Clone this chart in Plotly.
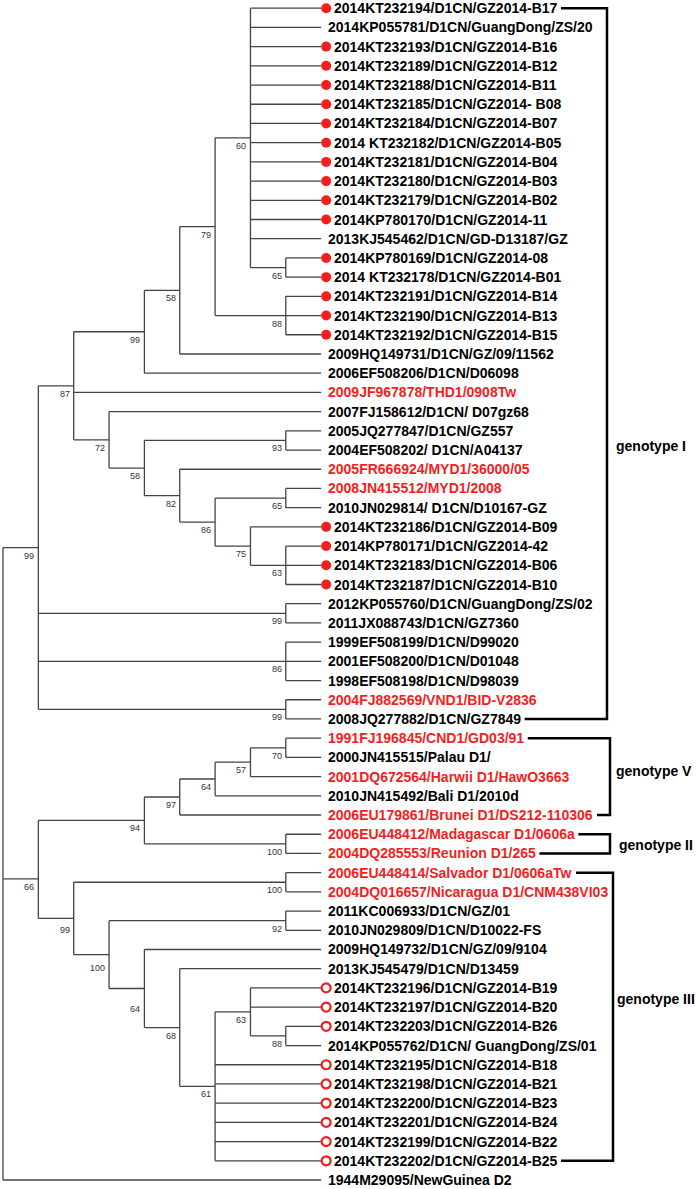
import plotly.graph_objects as go

# ---------------- data ----------------
leaf_labels = [
    "2014KT232194/D1CN/GZ2014-B17",
    "2014KP055781/D1CN/GuangDong/ZS/20",
    "2014KT232193/D1CN/GZ2014-B16",
    "2014KT232189/D1CN/GZ2014-B12",
    "2014KT232188/D1CN/GZ2014-B11",
    "2014KT232185/D1CN/GZ2014- B08",
    "2014KT232184/D1CN/GZ2014-B07",
    "2014 KT232182/D1CN/GZ2014-B05",
    "2014KT232181/D1CN/GZ2014-B04",
    "2014KT232180/D1CN/GZ2014-B03",
    "2014KT232179/D1CN/GZ2014-B02",
    "2014KP780170/D1CN/GZ2014-11",
    "2013KJ545462/D1CN/GD-D13187/GZ",
    "2014KP780169/D1CN/GZ2014-08",
    "2014 KT232178/D1CN/GZ2014-B01",
    "2014KT232191/D1CN/GZ2014-B14",
    "2014KT232190/D1CN/GZ2014-B13",
    "2014KT232192/D1CN/GZ2014-B15",
    "2009HQ149731/D1CN/GZ/09/11562",
    "2006EF508206/D1CN/D06098",
    "2009JF967878/THD1/0908Tw",
    "2007FJ158612/D1CN/ D07gz68",
    "2005JQ277847/D1CN/GZ557",
    "2004EF508202/ D1CN/A04137",
    "2005FR666924/MYD1/36000/05",
    "2008JN415512/MYD1/2008",
    "2010JN029814/ D1CN/D10167-GZ",
    "2014KT232186/D1CN/GZ2014-B09",
    "2014KP780171/D1CN/GZ2014-42",
    "2014KT232183/D1CN/GZ2014-B06",
    "2014KT232187/D1CN/GZ2014-B10",
    "2012KP055760/D1CN/GuangDong/ZS/02",
    "2011JX088743/D1CN/GZ7360",
    "1999EF508199/D1CN/D99020",
    "2001EF508200/D1CN/D01048",
    "1998EF508198/D1CN/D98039",
    "2004FJ882569/VND1/BID-V2836",
    "2008JQ277882/D1CN/GZ7849",
    "1991FJ196845/CND1/GD03/91",
    "2000JN415515/Palau D1/",
    "2001DQ672564/Harwii D1/HawO3663",
    "2010JN415492/Bali D1/2010d",
    "2006EU179861/Brunei D1/DS212-110306",
    "2006EU448412/Madagascar D1/0606a",
    "2004DQ285553/Reunion D1/265",
    "2006EU448414/Salvador D1/0606aTw",
    "2004DQ016657/Nicaragua D1/CNM438VI03",
    "2011KC006933/D1CN/GZ/01",
    "2010JN029809/D1CN/D10022-FS",
    "2009HQ149732/D1CN/GZ/09/9104",
    "2013KJ545479/D1CN/D13459",
    "2014KT232196/D1CN/GZ2014-B19",
    "2014KT232197/D1CN/GZ2014-B20",
    "2014KT232203/D1CN/GZ2014-B26",
    "2014KP055762/D1CN/ GuangDong/ZS/01",
    "2014KT232195/D1CN/GZ2014-B18",
    "2014KT232198/D1CN/GZ2014-B21",
    "2014KT232200/D1CN/GZ2014-B23",
    "2014KT232201/D1CN/GZ2014-B24",
    "2014KT232199/D1CN/GZ2014-B22",
    "2014KT232202/D1CN/GZ2014-B25",
    "1944M29095/NewGuinea D2",
]

# text colour group: k = black, r = red (reference strains)
leaf_color_group = list(
    "kkkkkkkkkkkkkkkkkkkk"   # 0-19
    "rkkkrrkkkkk"            # 20-30
    "kkkkkrk"                # 31-37
    "rkrkrrrrr"              # 38-46
    "kkkkkkkkkkkkkkk"        # 47-61
)

# marker group: f = filled dot, o = open circle, n = none
leaf_marker_group = list(
    "fnffffffffffnfffffnn"   # 0-19
    "nnnnnnnffff"            # 20-30
    "nnnnnnn"                # 31-37
    "nnnnnnnnn"              # 38-46
    "nnnnooonoooooon"        # 47-61
)

# tree: node id -> (bootstrap support, node level, children); ints are leaf indices
tree = {
    "root": ("", 0, ["n1", "n66", 61]),
    "n1": ("99", 1, ["n87", "n99b", "n86b", "n99c"]),
    "n87": ("87", 2, ["n99a", 20, "n72"]),
    "n99a": ("99", 4, ["n58a", 19]),
    "n58a": ("58", 5, ["n79", 18]),
    "n79": ("79", 6, ["n60", "n88a"]),
    "n60": ("60", 7, [0, 1, 2, 3, 4, 5, 6, 7, 8, 9, 10, 11, 12, "n65a"]),
    "n65a": ("65", 8, [13, 14]),
    "n88a": ("88", 8, [15, 16, 17]),
    "n72": ("72", 3, [21, "n58b"]),
    "n58b": ("58", 4, ["n93", "n82"]),
    "n93": ("93", 8, [22, 23]),
    "n82": ("82", 5, [24, "n86a"]),
    "n86a": ("86", 6, ["n65b", "n75"]),
    "n65b": ("65", 8, [25, 26]),
    "n75": ("75", 7, [27, "n63a"]),
    "n63a": ("63", 8, [28, 29, 30]),
    "n99b": ("99", 8, [31, 32]),
    "n86b": ("86", 8, [33, 34, 35]),
    "n99c": ("99", 8, [36, 37]),
    "n66": ("66", 1, ["n94", "n99d"]),
    "n94": ("94", 4, ["n97", "n100a"]),
    "n97": ("97", 5, ["n64a", 42]),
    "n64a": ("64", 6, ["n57", 41]),
    "n57": ("57", 7, ["n70", 40]),
    "n70": ("70", 8, [38, 39]),
    "n100a": ("100", 8, [43, 44]),
    "n99d": ("99", 2, ["n100b", "n100c"]),
    "n100b": ("100", 8, [45, 46]),
    "n100c": ("100", 3, ["n92", "n64b"]),
    "n92": ("92", 8, [47, 48]),
    "n64b": ("64", 4, [49, "n68"]),
    "n68": ("68", 5, [50, "n61"]),
    "n61": ("61", 6, ["n63b", 55, 56, 57, 58, 59, 60]),
    "n63b": ("63", 7, [51, 52, "n88b"]),
    "n88b": ("88", 8, [53, 54]),
}

# genotype brackets: (name, first leaf, last leaf, label row)
genotypes = [
    ("genotype I", 0, 37, 22.8),
    ("genotype V", 38, 42, 39.7),
    ("genotype II", 43, 44, 43.55),
    ("genotype III", 45, 60, 51.6),
]

# ---------------- layout / style ----------------
W, H = 697, 1189
X0, LEVEL_STEP, TIP_LEVEL = 3.0, 35.35, 9
Y0, ROW = 8.2, 19.21
LINE_COLOR = "#444444"
RED = "#f51e1e"
FONT = "Liberation Sans, Arial, sans-serif"
LEAF_FONT = 14
SUPPORT_FONT = 9
BRACKET_X = {"genotype I": 607, "genotype V": 610, "genotype II": 610, "genotype III": 613}
LABEL_X = {"genotype I": 615, "genotype V": 615, "genotype II": 618, "genotype III": 616}
SUPPORT_DY = {"n64b": 20, "n100c": 13, "n99d": 12}
NODE_NUDGE = {"n66": 9.5}

# Arial Bold advance widths (per 1000 em) for bracket arm placement
AW = {" ": 278, "-": 333, "/": 278}
AW.update({d: 556 for d in "0123456789"})
AW.update(dict(zip("ABCDEFGHIJKLMNOPQRSTUVWXYZ",
                   [722, 722, 722, 722, 667, 611, 778, 722, 278, 556, 722, 611, 833,
                    722, 778, 667, 778, 722, 667, 611, 722, 667, 944, 667, 667, 611])))
AW.update(dict(zip("abcdefghijklmnopqrstuvwxyz",
                   [556, 611, 556, 611, 556, 333, 611, 611, 278, 278, 556, 278, 889,
                    611, 611, 611, 611, 389, 556, 333, 611, 556, 778, 556, 556, 500])))


def text_w(s, size):
    return sum(AW.get(c, 556) for c in s) * size / 1000.0


def lx(level):
    return X0 + level * LEVEL_STEP


def ly(row):
    return Y0 + row * ROW


tip_x = lx(TIP_LEVEL)
pos = {}


def place(node):
    if isinstance(node, int):
        pos[node] = (tip_x, ly(node))
        return pos[node]
    sup, lev, kids = tree[node]
    ys = [place(k)[1] for k in kids]
    y = (ys[0] + ys[-1]) / 2 + NODE_NUDGE.get(node, 0)
    pos[node] = (lx(lev), y)
    return pos[node]


place("root")

lx_s, ly_s = [], []
annotations = []
for nid, (sup, lev, kids) in tree.items():
    nx, ny = pos[nid]
    kys = [pos[k][1] for k in kids]
    lx_s += [nx, nx, None]
    ly_s += [min(kys), max(kys), None]
    for k in kids:
        kx, ky = pos[k]
        lx_s += [nx, kx, None]
        ly_s += [ky, ky, None]
    if sup:
        annotations.append(dict(
            x=nx - 3, y=ny + SUPPORT_DY.get(nid, 8), text=sup, showarrow=False,
            xanchor="right", yanchor="middle", borderpad=0,
            font=dict(family=FONT, size=SUPPORT_FONT, color="#333333")))

fig = go.Figure()
fig.add_trace(go.Scatter(x=lx_s, y=ly_s, mode="lines", hoverinfo="skip",
                         line=dict(color=LINE_COLOR, width=1.3), showlegend=False))

text_end = {}
fx, fy, ox, oy = [], [], [], []
for i, lab in enumerate(leaf_labels):
    x, y = pos[i]
    mk = leaf_marker_group[i]
    if mk == "f":
        fx.append(x + 5); fy.append(y)
    elif mk == "o":
        ox.append(x + 5); oy.append(y)
    tx = x + (11.5 if mk != "n" else 5.5)
    text_end[i] = tx + text_w(lab, LEAF_FONT)
    annotations.append(dict(
        x=tx, y=y, text=lab, showarrow=False, xanchor="left", yanchor="middle",
        borderpad=0,
        font=dict(family=FONT, size=LEAF_FONT, weight="bold",
                  color=RED if leaf_color_group[i] == "r" else "#000000")))

fig.add_trace(go.Scatter(x=fx, y=fy, mode="markers", hoverinfo="skip", showlegend=False,
                         marker=dict(symbol="circle", size=10, color=RED, line=dict(width=0))))
fig.add_trace(go.Scatter(x=ox, y=oy, mode="markers", hoverinfo="skip", showlegend=False,
                         marker=dict(symbol="circle-open", size=9, color=RED,
                                     line=dict(width=2.2, color=RED))))

bx_s, by_s = [], []
for name, a, b, lrow in genotypes:
    bx = BRACKET_X[name]
    ya, yb = ly(a), ly(b)
    bx_s += [text_end[a] + 5, bx, bx, text_end[b] + 5, None]
    by_s += [ya, ya, yb, yb, None]
    annotations.append(dict(
        x=LABEL_X[name], y=ly(lrow), text=name, showarrow=False, xanchor="left",
        yanchor="middle", borderpad=0,
        font=dict(family=FONT, size=LEAF_FONT, weight="bold", color="#000000")))

fig.add_trace(go.Scatter(x=bx_s, y=by_s, mode="lines", hoverinfo="skip", showlegend=False,
                         line=dict(color="#000000", width=2.5)))

fig.update_layout(
    width=W, height=H, autosize=False,
    margin=dict(l=0, r=0, t=0, b=0, pad=0),
    paper_bgcolor="white", plot_bgcolor="white",
    xaxis=dict(range=[0, W], visible=False, fixedrange=True),
    yaxis=dict(range=[H, 0], visible=False, fixedrange=True),
    annotations=annotations,
)

fig.write_html("out.html", config={"displayModeBar": False},
               post_script="document.body.style.margin='0';")
